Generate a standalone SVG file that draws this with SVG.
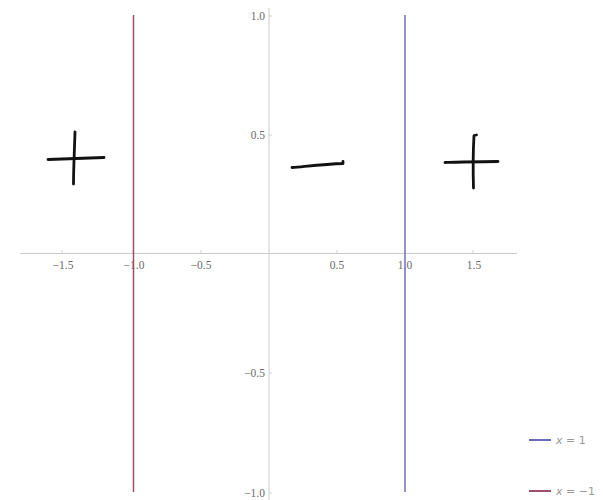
<svg xmlns="http://www.w3.org/2000/svg" width="603" height="500" viewBox="0 0 603 500">
<style>
.axis{stroke:#cccccc;stroke-width:1;fill:none}
.tick{stroke:#d0d0d0;stroke-width:1}
.lbl{font-family:"Liberation Serif",serif;font-size:11.5px;fill:#6a6a6a}
.leg{font-family:"DejaVu Sans","Liberation Sans",sans-serif;font-size:11px;fill:#999}
.legx{font-style:italic}
.ink{stroke:#111;stroke-width:2.8;fill:none;stroke-linecap:round;stroke-linejoin:round}
</style>
<rect width="603" height="500" fill="#fff"/>
<g id="axes">
<line class="axis" x1="20" y1="253.5" x2="517" y2="253.5"/>
<line class="axis" x1="269" y1="8" x2="269" y2="500"/>
<g class="tick">
<line x1="62" y1="250" x2="62" y2="253.5"/>
<line x1="133" y1="250" x2="133" y2="253.5"/>
<line x1="201" y1="250" x2="201" y2="253.5"/>
<line x1="337" y1="250" x2="337" y2="253.5"/>
<line x1="405" y1="250" x2="405" y2="253.5"/>
<line x1="473" y1="250" x2="473" y2="253.5"/>
<line x1="269" y1="16" x2="272" y2="16"/>
<line x1="269" y1="135" x2="272" y2="135"/>
<line x1="269" y1="373" x2="272" y2="373"/>
<line x1="269" y1="493" x2="272" y2="493"/>
</g>
<g class="lbl" text-anchor="middle">
<text x="63" y="269">−1.5</text>
<text x="134" y="269">−1.0</text>
<text x="201" y="269">−0.5</text>
<text x="337" y="269">0.5</text>
<text x="405" y="269">1.0</text>
<text x="474" y="269">1.5</text>
</g>
<g class="lbl" text-anchor="end">
<text x="265" y="20">1.0</text>
<text x="265" y="139">0.5</text>
<text x="265" y="377">−0.5</text>
<text x="265" y="497">−1.0</text>
</g>
</g>
<g id="line-xm1"><line x1="133.5" y1="15" x2="133.5" y2="492" stroke="#a0506e" stroke-width="1.5"/></g>
<g id="line-x1"><line x1="405" y1="15" x2="405" y2="492" stroke="#7070c0" stroke-width="1.5"/></g>
<g id="plus-left">
<path class="ink" d="M75,132 C74.5,150 73.5,168 73.5,184"/>
<path class="ink" d="M48,159.5 C66,159 86,158 104,157.5"/>
</g>
<g id="minus">
<path class="ink" d="M292,167.5 C309,166 326,164 343,163.5 L343,161.5"/>
</g>
<g id="plus-right">
<path class="ink" d="M476.5,135 L474,135.5 C473,153 473,171 473.5,188"/>
<path class="ink" d="M445,162.5 C463,162 480,161.5 498,161.5"/>
</g>
<g id="legend">
<line x1="529" y1="440" x2="551" y2="440" stroke="#6a6ab5" stroke-width="2"/>
<text class="leg" x="556" y="444"><tspan class="legx">x</tspan> = 1</text>
<line x1="529" y1="491" x2="551" y2="491" stroke="#a0506e" stroke-width="2"/>
<text class="leg" x="556" y="495"><tspan class="legx">x</tspan> = −1</text>
</g>
</svg>
